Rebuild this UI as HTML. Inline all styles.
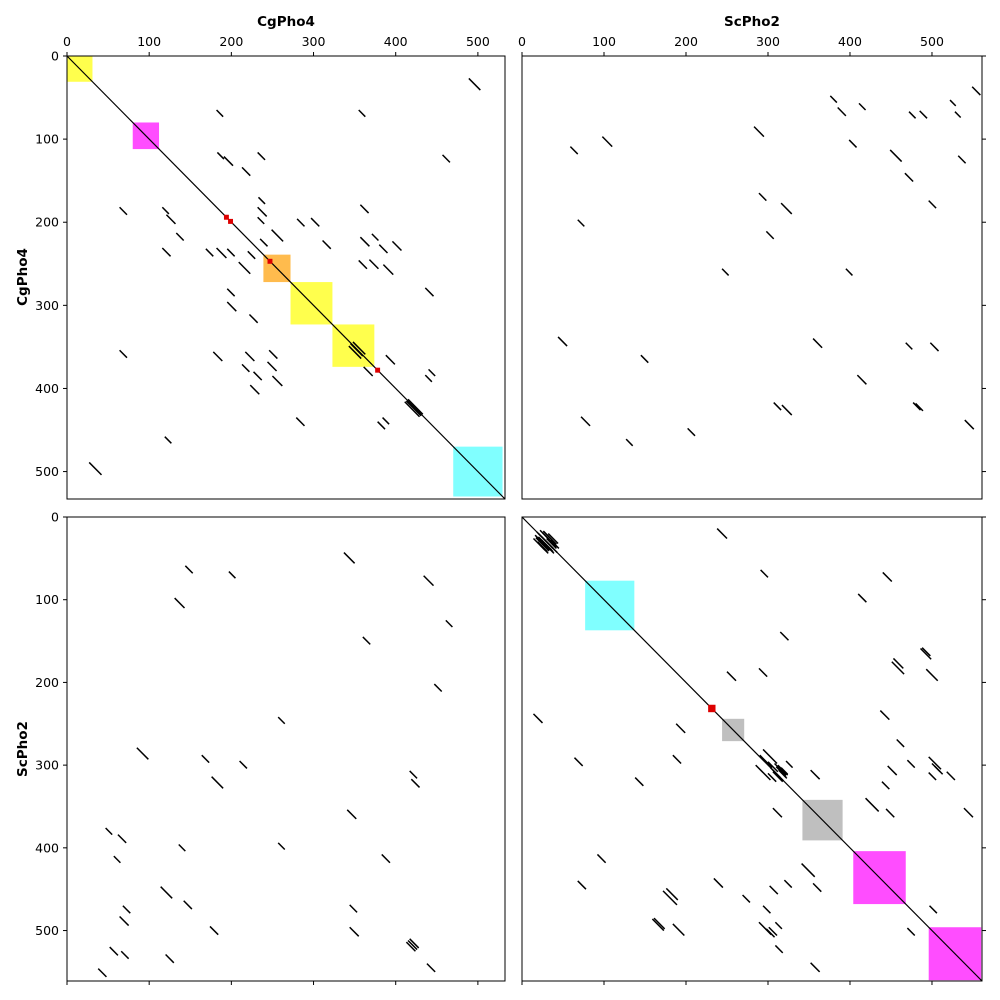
<!DOCTYPE html>
<html><head><meta charset="utf-8">
<style>
html,body{margin:0;padding:0;background:#fff;}
svg{display:block;font-family:"DejaVu Sans","Liberation Sans",sans-serif;}
</style></head>
<body>
<svg id="fig" width="1000" height="1000" viewBox="0 0 1000 1000" xmlns="http://www.w3.org/2000/svg">
<rect width="1000" height="1000" fill="#fff"/>
</svg>
<script>
// Sequence lengths
const seqNames = ["CgPho4", "ScPho2"];
const seqLengths = [533, 561];
const tickValues = [0, 100, 200, 300, 400, 500];

// Segments: [x, y, length] in residue units
const segsTL = [[489,27,14],[182,65,8],[355,65,8],[183,116,8],[191,121,11],[232,116,9],[213,134,10],[457,119,9],
[233,170,8],[232,182,11],[64,182,9],[116,182,8],[121,191,11],[357,179,10],[232,194,8],[280,196,9],[297,195,10],
[133,213,9],[249,209,14],[235,220,9],[311,222,10],[357,218,11],[371,214,8],[380,227,10],[396,223,11],
[116,231,10],[169,232,9],[182,231,12],[195,232,9],[220,235,9],[209,248,14],[355,246,10],[368,245,11],[385,251,12],
[195,280,9],[436,279,10],[195,296,11],[222,311,10],[343,349,15],[348,344,15],[345,346,15],[64,354,9],[178,356,11],
[217,356,11],[246,354,10],[388,360,11],[213,371,9],[244,368,11],[361,374,11],[227,380,10],[250,385,12],
[436,384,8],[440,377,8],[223,396,11],[411,416,18],[415,413,18],[413,415,18],[279,435,10],[378,440,9],[384,435,8],
[119,458,8],[27,489,15]];
const segsTR = [[376,48,8],[385,62,10],[411,57,8],[472,67,8],[485,66,9],[522,53,7],[528,67,7],[549,37,10],
[283,85,12],[399,101,9],[449,113,14],[467,141,10],[532,120,9],[59,109,9],[98,97,12],[289,165,9],[316,177,13],
[496,174,9],[68,197,8],[298,211,9],[244,256,8],[395,256,8],[44,338,11],[355,340,11],[468,345,8],[498,345,10],
[145,360,9],[409,384,11],[72,434,11],[307,417,9],[317,420,12],[477,417,9],[480,418,9],[540,438,11],[202,448,9],[127,461,8]];
const segsBL = [[337,43,13],[144,59,9],[197,66,8],[434,71,12],[131,98,12],[461,125,8],[360,145,9],[447,202,9],
[257,242,8],[85,279,14],[164,288,9],[210,295,9],[176,314,14],[417,307,9],[419,317,10],[341,354,11],[47,376,8],
[62,384,10],[136,396,8],[257,394,8],[57,410,8],[383,408,10],[114,447,14],[142,464,10],[68,470,9],[64,483,11],
[344,469,9],[174,495,10],[344,496,11],[415,512,11],[417,510,11],[413,514,11],[52,520,10],[66,525,9],[120,529,10],
[38,546,10],[438,540,10]];
const segsBR = [[238,14,12],[291,64,9],[440,67,11],[410,93,10],[315,139,10],[486,159,13],[488,158,10],[453,171,12],
[451,175,15],[493,184,14],[250,187,11],[289,183,10],[14,238,11],[437,234,11],[188,250,11],[457,269,9],[64,291,10],
[184,288,10],[294,281,17],[290,288,15],[285,300,18],[300,296,12],[305,305,14],[300,310,10],[312,300,12],[308,298,14],
[310,302,12],[306,308,12],[313,306,10],[303,303,12],[316,303,8],
[322,295,8],[352,306,11],[138,315,10],[446,301,11],[470,294,9],[496,290,15],[503,301,10],[500,298,10],[496,309,9],
[518,308,10],[439,320,9],[419,340,16],[444,353,10],[306,352,11],[539,352,11],[92,408,10],[341,419,16],[234,437,11],
[68,440,10],[320,439,9],[355,443,10],[302,446,10],[172,452,17],[176,449,14],[269,457,9],[294,470,9],[497,470,9],
[159,486,14],[161,485,13],[184,492,14],[289,490,15],[301,496,10],[298,498,10],[309,490,8],[470,497,9],[309,518,9],[352,539,11],
[18,18,20],[22,16,18],[16,22,18],[20,24,16],[25,19,17],[14,26,14],[28,22,14],[24,28,14],[30,26,12],[19,30,12],[32,20,12],[27,32,12],[35,28,10],[22,34,10],
[20,20,18],[17,25,16],[26,17,16],[23,23,16],[29,29,14]];

// Highlight boxes: [start, end, colour] on both axes
const boxesTL = [[0,31,"#ffff4d"],[80,112,"#ff4dff"],[239,272,"#ffbb4d"],[272,323,"#ffff4d"],[323,374,"#ffff4d"],[470,530,"#80ffff"]];
const boxesBR = [[77,137,"#80ffff"],[244,271,"#bfbfbf"],[342,391,"#bfbfbf"],[404,468,"#ff4dff"],[496,560,"#ff4dff"]];
const redTL = [[191,191,6],[196,196,6],[244,244,6],[375,375,6]];
const redBR = [[227,227,9]];

const NS = "http://www.w3.org/2000/svg";
const fig = document.getElementById('fig');
function mk(tag, attrs, parent){ const e=document.createElementNS(NS,tag); for(const k in attrs) e.setAttribute(k,attrs[k]); (parent||fig).appendChild(e); return e; }

function panel(name, box, xlen, ylen, segs, boxes, reds, diag, opts){
  const g = mk('g', {});
  
  
  const [L,T,R,B] = box;
  const sx = v => L + v*(R-L)/xlen;
  const sy = v => T + v*(B-T)/ylen;
  boxes.forEach(b=>{
    const r = mk('rect',{x:sx(b[0]),y:sy(b[0]),width:sx(b[1])-sx(b[0]),height:sy(b[1])-sy(b[0]),fill:b[2]},g);
    
    
  });
  if(diag){
    const d = mk('line',{x1:sx(0),y1:sy(0),x2:sx(Math.min(xlen,ylen)),y2:sy(Math.min(xlen,ylen)),stroke:"#000","stroke-width":1.2},g);
    
    
  }
  reds.forEach(q=>{
    const r = mk('rect',{x:sx(q[0]),y:sy(q[1]),width:sx(q[2])-sx(0),height:sy(q[2])-sy(0),fill:"#dd0000"},g);
    
    
  });
  segs.forEach(s=>{
    const l = mk('line',{x1:sx(s[0]),y1:sy(s[1]),x2:sx(s[0]+s[2]),y2:sy(s[1]+s[2]),stroke:"#000","stroke-width":1.5},g);
    
    
  });
  const fr = mk('rect',{x:L,y:T,width:R-L,height:B-T,fill:"none",stroke:"#000","stroke-width":1},g);
  
  
  tickValues.forEach(t=>{
    if(t<=xlen){
      const x=sx(t);
      if(opts.xTop){
        const tk=mk('line',{x1:x,y1:T,x2:x,y2:T-4,stroke:"#000"},g);
        
        
        const tx=mk('text',{x:x,y:T-10,"text-anchor":"middle","font-size":12.5,fill:"#000"},g);
        tx.textContent=t;
        
        
      } else {
        const tk=mk('line',{x1:x,y1:B,x2:x,y2:B+4,stroke:"#000"},g);
        
        
      }
    }
    if(t<=ylen){
      const y=sy(t);
      if(opts.yLeft){
        const tk=mk('line',{x1:L,y1:y,x2:L-4,y2:y,stroke:"#000"},g);
        
        
        const tx=mk('text',{x:L-8,y:y+4.5,"text-anchor":"end","font-size":12.5,fill:"#000"},g);
        tx.textContent=t;
        
        
      } else {
        const tk=mk('line',{x1:R,y1:y,x2:R+4,y2:y,stroke:"#000"},g);
        
        
      }
    }
  });
  return g;
}

panel('panel-cgpho4-vs-cgpho4',[67,56,505,499],seqLengths[0],seqLengths[0],segsTL,boxesTL,redTL,true,{xTop:true,yLeft:true});
panel('panel-scpho2-vs-cgpho4',[522,56,982,499],seqLengths[1],seqLengths[0],segsTR,[],[],false,{xTop:true,yLeft:false});
panel('panel-cgpho4-vs-scpho2',[67,517,505,981],seqLengths[0],seqLengths[1],segsBL,[],[],false,{xTop:false,yLeft:true});
panel('panel-scpho2-vs-scpho2',[522,517,982,981],seqLengths[1],seqLengths[1],segsBR,boxesBR,redBR,true,{xTop:false,yLeft:false});

function title(txt,x,y,rot,name){
  const t=mk('text',{x:x,y:y,"text-anchor":"middle","font-size":13.5,"font-weight":"bold",fill:"#000",transform:rot?`rotate(-90 ${x} ${y})`:""});
  t.textContent=txt;
  
  
}
title(seqNames[0],286,26,false,'x-axis-title-left');
title(seqNames[1],752,26,false,'x-axis-title-right');
title(seqNames[0],27,277,true,'y-axis-title-top');
title(seqNames[1],27,749,true,'y-axis-title-bottom');
</script>
</body></html>
